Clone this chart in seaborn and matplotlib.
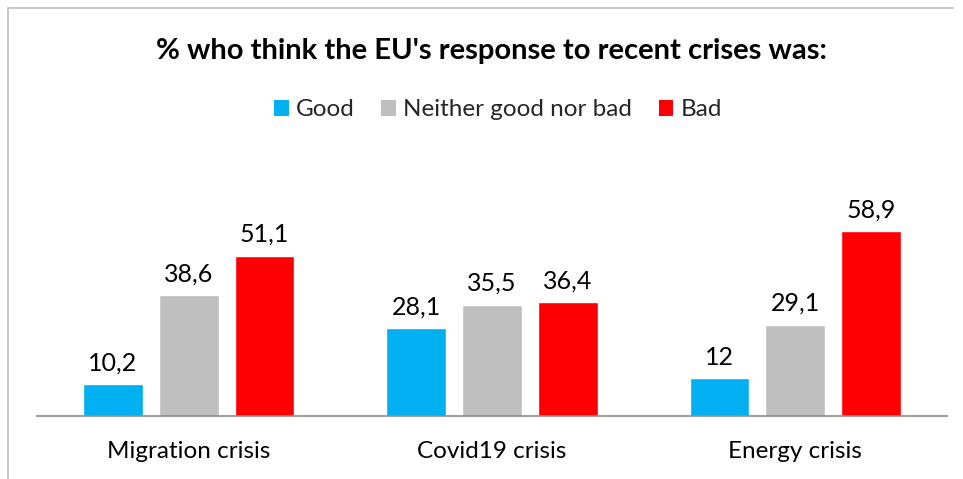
import matplotlib
matplotlib.use("Agg")
import matplotlib.pyplot as plt
import seaborn as sns
import pandas as pd
from matplotlib.lines import Line2D
from matplotlib.patches import Patch

categories = ["Migration crisis", "Covid19 crisis", "Energy crisis"]
series_names = ["Good", "Neither good nor bad", "Bad"]
good = [10.2, 28.1, 12.0]
neither = [38.6, 35.5, 29.1]
bad = [51.1, 36.4, 58.9]
colors = ["#00B0F0", "#BFBFBF", "#FF0000"]
title = "% who think the EU's response to recent crises was:"

rows = []
for name, vals in zip(series_names, [good, neither, bad]):
    for c, v in zip(categories, vals):
        rows.append({"crisis": c, "answer": name, "value": v})
df = pd.DataFrame(rows)

sns.set_theme(style="white")
plt.rcParams["font.family"] = ["Lato", "DejaVu Sans"]

fig = plt.figure(figsize=(9.63, 4.79), dpi=100)
ax = fig.add_axes([37/963, 63/479, 910/963, 276/479])
sns.barplot(data=df, x="crisis", y="value", hue="answer", order=categories,
            hue_order=series_names, palette=colors, width=0.75, gap=0.21,
            ax=ax, legend=False, saturation=1)

def fmt(v):
    return f"{v:g}".replace(".", ",")

for cont in ax.containers:
    ax.bar_label(cont, labels=[fmt(b.get_height()) for b in cont],
                 padding=7, fontsize=18, color="#000000")

ax.set_xlim(-0.5, 2.5)
ax.set_ylim(0, 88)
ax.set_xlabel("")
ax.set_ylabel("")
ax.set_yticks([])
ax.tick_params(axis="x", labelsize=17.5, colors="#000000", length=0, pad=18)
for s in ["top", "right", "left"]:
    ax.spines[s].set_visible(False)
ax.spines["bottom"].set_color("#8C8C8C")
ax.spines["bottom"].set_linewidth(1.2)

fig.text(491/963, 1 - 51/479, title, ha="center", va="center",
         fontsize=21, fontweight="bold", color="#000000")

handles = [Patch(facecolor=c, edgecolor="none") for c in colors]
fig.legend(handles, series_names, loc="center", bbox_to_anchor=(498/963, 1 - 110/479),
           ncol=3, frameon=False, fontsize=17.5, handlelength=0.6, handleheight=0.6,
           handletextpad=0.3, columnspacing=1.1)

# chart frame
fig.add_artist(Line2D([8/963, 8/963], [0, 1 - 8/479], transform=fig.transFigure,
                      color="#BFBFBF", lw=1.2))
fig.add_artist(Line2D([8/963, 953/963], [1 - 8/479, 1 - 8/479], transform=fig.transFigure,
                      color="#BFBFBF", lw=1.2))

fig.savefig("out.png", dpi=100)
